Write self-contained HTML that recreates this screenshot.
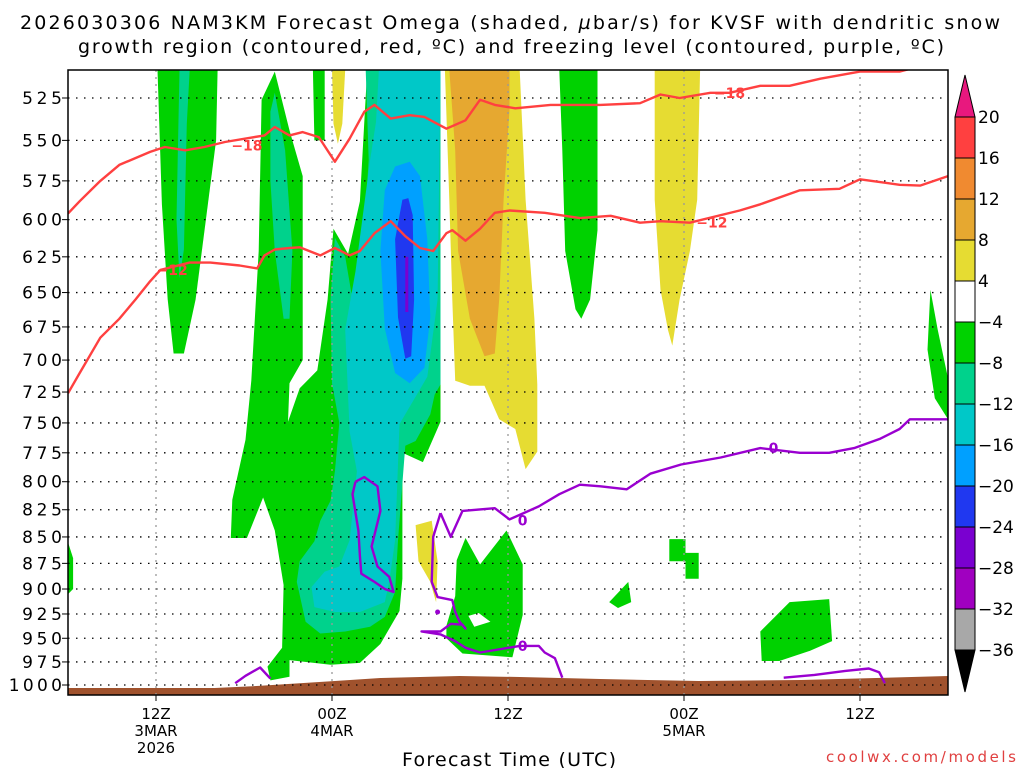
<!DOCTYPE html>
<html><head><meta charset="utf-8"><style>
html,body{margin:0;padding:0;background:#fff;}
svg{display:block;font-family:"DejaVu Sans","Liberation Sans",sans-serif;}
</style></head><body>
<svg id="chart" width="1024" height="768" viewBox="0 0 1024 768" xmlns="http://www.w3.org/2000/svg">
<rect width="1024" height="768" fill="#fff"/>
<text x="20" y="29" font-size="19" textLength="980" lengthAdjust="spacing" fill="#000">2026030306 NAM3KM Forecast Omega (shaded, <tspan font-style="italic">µ</tspan>bar/s) for KVSF with dendritic snow</text>
<text x="78" y="53" font-size="19" textLength="866" lengthAdjust="spacing" fill="#000">growth region (contoured, red, ºC) and freezing level (contoured, purple, ºC)</text>
<g id="shade"></g>
<g id="terrain"></g>
<g id="grid"></g>
<g id="contours"></g>
<g id="axes"></g>
<g id="cbar"></g>
<text x="402" y="766" font-size="19" textLength="214" lengthAdjust="spacing">Forecast Time (UTC)</text>
<text x="826" y="762" font-size="15" textLength="190" lengthAdjust="spacing" fill="#e04040">coolwx.com/models</text>
</svg>
<script>
// ---- data ----
const pressureTicks=[525,550,575,600,625,650,675,700,725,750,775,800,825,850,875,900,925,950,975,1000];
const timeTickHours=[6,18,30,42,54];
const timeTickLabels=[["12Z","3MAR","2026"],["00Z","4MAR"],["12Z"],["00Z","5MAR"],["12Z"]];
const cbarLevels=[20,16,12,8,4,-4,-8,-12,-16,-20,-24,-28,-32,-36];
const cbarColors=["#ff4040","#f08a30","#e6a830","#e6dc32","#ffffff","#00d200","#00d28c","#00c8c8","#00a0ff","#2038f0","#7a00d0","#a000c0","#a8a8a8"];
const terrainHours=[0,10,13,18.2,21.3,26.7,30.8,36.3,43,50,60];
const terrainPres=[1003.3,1003.3,1001,995.6,992.3,990.2,991.3,993.4,995.6,994.5,990.2];
const tempM18=[[0,596],[0.8,588],[2.2,575],[3.5,565],[5.6,557],[6.6,554],[8,556],[9.3,554],[10.7,551],[13.4,547],[14.1,542],[15.1,547],[16,545],[17.1,548],[18.2,563],[19.2,549],[20.2,533],[20.9,529],[22,537],[23.3,535],[24.3,536],[25.8,543],[27.1,538],[28.1,526],[29.1,529],[30.5,531],[32.9,529],[36.3,529],[39,528],[40.4,523],[41.7,525],[43.8,522],[45.1,522],[47.2,518],[49.2,518],[51.3,514],[54,510],[56.7,510],[58.1,507],[60,505]];
const tempM12=[[0,726],[0.8,710],[2.2,683],[3.5,669],[4.6,655],[5.6,642],[6.3,634],[8.3,629],[9.7,629],[11.7,631],[12.9,633],[13.4,624],[14.1,620],[15.1,619],[15.8,618.5],[17.2,624],[18.2,619],[19.2,624],[19.9,621],[20.9,609],[22,601],[23,611],[24,619],[24.9,621],[25.8,609],[26.2,607],[27.1,614],[28.1,606],[29.1,595.5],[30.1,594],[32.5,595.5],[34.9,599],[37,597.5],[39,602],[40.4,601],[42.4,602],[45.8,594],[47.2,590],[49.9,581],[52.6,580],[54,574],[56.7,577.5],[58.1,578],[60,572]];
const frz0Main=[[25.4,828],[26.1,850],[26.9,826],[29.1,823.6],[30.1,833.8],[32.1,822],[33.5,811],[34.9,802.6],[36.3,804],[38.1,806.7],[39.7,793],[41.8,785],[44.5,779],[47.2,771],[49.9,775],[51.9,775],[53.6,771],[55.4,763],[56.7,755],[57.4,747],[60,747]];
const frz0Low=[[25.4,828],[24.9,850],[24.8,893],[25.2,908],[26.2,911],[26.4,923],[26.7,933],[27.1,940],[26.9,936],[26.1,935],[25.4,943],[24.1,943],[25.4,946],[26.4,953],[27.1,960],[28.1,965],[30.8,958],[32.1,958],[32.5,965],[33.2,971],[33.7,992]];
const frz0Loop=[[19.6,800],[20.2,796],[21.1,804],[21.3,826],[20.9,848],[20.7,859],[21.1,878],[21.9,888],[22.2,903],[21.6,900],[20.9,893],[20,885],[19.9,868],[19.8,844],[19.4,811],[19.6,800]];
const frz0SfcA=[[11.4,998],[12.1,990],[13.1,981],[13.8,993]];
const frz0SfcB=[[48.8,992],[50.9,989],[53,984.6],[54.6,982],[55.3,986],[55.7,998]];
const contourLabels=[["−18",12.2,553,"#ff4040"],["−18",45.1,522,"#ff4040"],["−12",7.1,634,"#ff4040"],["−12",43.9,602,"#ff4040"],["0",48.1,771,"#9a00d0"],["0",31,835,"#9a00d0"],["0",31,958,"#9a00d0"]];
// shaded omega regions: polygons of [hour, hPa]
const greenColA=[[6.1,509],[10.2,509],[10.1,550],[9.4,600],[8.7,655],[7.9,695],[7.2,695],[6.8,655],[6.4,590]];
const tealColA=[[7.6,509],[8.3,509],[8.1,540],[7.9,620],[7.6,640],[7.4,600]];
const greenMain=[[20.4,509],[25.4,509],[25.4,749],[24.2,783],[22.8,775],[22.8,890],[22.6,922],[21.3,956],[19.9,976],[17.9,978],[15.1,973],[15.1,991],[13.8,995],[13.6,980],[14.6,960],[14.7,896],[14.1,844],[13.3,814],[12.2,851],[11.1,851],[11.2,816],[12.1,764],[12.5,716],[13,621],[13.2,526],[14.1,510],[15.1,544],[16,572],[16,700],[15.1,718],[15,749],[15.8,722],[17,708],[17.7,655],[18.1,606],[19.1,623],[19.9,588]];
const greenStrip=[[16.7,509],[17.5,509],[17.5,550],[16.8,550]];
const tealStrand=[[13.8,533],[14.1,522],[14.8,556],[15.3,621],[15.1,669],[14.7,669],[14.1,621],[13.8,575]];
const tealMain=[[20.3,509],[25.4,509],[25.4,719],[25,727],[24.7,743],[23.7,765],[23,769],[22.5,853],[22.3,903],[21.6,928],[20.6,938],[18.9,943],[17.2,945],[16.2,933],[15.6,893],[15.8,873],[16.8,854],[17.2,835],[17.9,817],[18.2,791],[18.5,750],[18,718],[17.9,655],[18.2,612],[18.9,625],[19.4,655],[20.1,621],[20.5,562]];
const cyanMain=[[21.2,509],[25.4,509],[25.2,655],[24.5,713],[22.6,751],[22.3,853],[21.9,893],[21.6,913],[19.9,923],[18.2,923],[16.8,918],[16.6,898],[17.5,883],[18.5,878],[19.2,853],[19.7,791],[19.2,757],[18.9,677],[19.6,635],[20.6,562],[21,539]];
const lblueMain=[[22.3,566],[23.3,563],[24,572],[24.5,613],[24.7,668],[24.3,706],[23.3,718],[22.3,710],[21.6,676],[21.3,621],[21.6,581]];
const blueMain=[[22.8,587],[23.2,586],[23.5,597],[23.6,655],[23.4,697],[23,699],[22.5,668],[22.3,613]];
const purpleMain=[[23,625],[23.2,625],[23.2,664],[23,664]];
const yellowBig=[[25.7,509],[30.8,509],[31.2,587],[31.8,669],[32,719],[32,774],[31.2,789],[30.5,755],[29.4,747],[28.4,720],[27.4,720],[26.4,716],[26.2,655],[26,587]];
const orangeBig=[[26,509],[30.1,509],[30.1,532],[29.7,587],[29.4,655],[29.1,695],[28.4,697],[27.4,669],[26.6,621],[26.4,556]];
const yellowStrip=[[18,509],[18.9,509],[18.7,540],[18.4,552],[18.1,540]];
const yellowSmall=[[23.7,839],[24.8,835],[25.2,873],[25.1,913],[24.7,893],[23.9,873]];
const yellowRight=[[40,509],[43.1,509],[42.9,587],[42.4,621],[41.7,655],[41.2,689],[40.9,677],[40.4,648],[40,587]];
const greenRightCol=[[33.5,509],[36.1,509],[36.1,607],[35.6,655],[35,669],[34.6,662],[33.9,621],[33.7,556]];
const greenLowMid=[[27.1,851],[28.1,876],[29.9,844],[31,876],[31,926],[30.3,970],[26.9,966],[25.8,950],[25.8,937],[26.4,907],[26.5,872]];
const whiteHole=[[27.3,927],[28,924],[28.8,933],[27.7,938]];
const greenBox=[[41,852],[42.1,852],[42.1,865],[43,865],[43,890],[42.1,890],[42.1,873],[41,873]];
const greenDot=[[36.9,913],[38.2,893],[38.4,913],[37.5,919]];
const greenLowRight=[[47.2,943],[49.2,913],[51.9,910],[52.1,953],[50.6,963],[48.5,974],[47.3,974]];
const greenEdgeR=[[58.8,648],[59.3,677],[60,714],[60,747],[59.1,730],[58.6,692]];
const greenEdgeL=[[0,855],[0.35,870],[0.35,900],[0,905]];

// ---- axes ----
const L=68,R=948,T=70,B=695,H0=0,H1=60;
function X(h){return L+(h-H0)/(H1-H0)*(R-L);}
function Y(p){return 685-911*Math.log(1000/p);}
const NS="http://www.w3.org/2000/svg";
function mk(tag,attrs,parent){const e=document.createElementNS(NS,tag);for(const k in attrs)e.setAttribute(k,attrs[k]);parent.appendChild(e);return e;}
function pts(arr){return arr.map(d=>X(d[0]).toFixed(1)+","+Y(d[1]).toFixed(1)).join(" ");}

const shade=document.getElementById('shade');
const layers=[[greenColA,"#00d200","green-region"],[tealColA,"#00d28c","teal-region"],[greenMain,"#00d200","green-region"],[greenStrip,"#00d200","green-region"],[tealStrand,"#00d28c","teal-region"],[tealMain,"#00d28c","teal-region"],[cyanMain,"#00c8c8","cyan-region"],[lblueMain,"#00a0ff","lightblue-region"],[blueMain,"#2038f0","blue-region"],[purpleMain,"#7a00d0","purple-region"],[yellowBig,"#e6dc32","yellow-region"],[orangeBig,"#e6a830","orange-region"],[yellowStrip,"#e6dc32","yellow-region"],[yellowSmall,"#e6dc32","yellow-region"],[yellowRight,"#e6dc32","yellow-region"],[greenRightCol,"#00d200","green-region"],[greenLowMid,"#00d200","green-region"],[whiteHole,"#ffffff","white-hole"],[greenBox,"#00d200","green-region"],[greenDot,"#00d200","green-region"],[greenLowRight,"#00d200","green-region"],[greenEdgeR,"#00d200","green-region"],[greenEdgeL,"#00d200","green-region"]];
const clip=mk('clipPath',{id:'plotclip'},document.getElementById('chart'));
mk('rect',{x:L,y:T,width:R-L,height:B-T},clip);
shade.setAttribute('clip-path','url(#plotclip)');
layers.forEach(l=>{
  const e=mk('polygon',{points:pts(l[0]),fill:l[1]},shade);
  
  
});

// terrain
const ter=document.getElementById('terrain');
let tp=terrainHours.map((h,i)=>[h,terrainPres[i]]);
let tstr=pts(tp)+" "+X(60)+","+B+" "+X(0)+","+B;
const te=mk('polygon',{points:tstr,fill:"#a0522d"},ter);



// grid + axes
const grid=document.getElementById('grid'), axes=document.getElementById('axes');
pressureTicks.forEach(p=>{
  const y=Y(p);
  const g=mk('line',{x1:L,x2:R,y1:y,y2:y,stroke:"#000","stroke-width":1.3,"stroke-dasharray":"1.5,6.5"},grid);
  
  
  const t=mk('line',{x1:L-6,x2:L,y1:y,y2:y,stroke:"#000","stroke-width":1},axes);
  
  
  const s=String(p);
  const w=13.3*s.length;
  const tx=mk('text',{x:62-w,y:y+6,"font-size":17,textLength:w,lengthAdjust:"spacing"},axes);
  tx.textContent=s;
  
  
});
timeTickHours.forEach((h,i)=>{
  const x=X(h);
  const g=mk('line',{x1:x,x2:x,y1:T,y2:B,stroke:"#999","stroke-width":1.3,"stroke-dasharray":"2,5"},grid);
  
  
  const t=mk('line',{x1:x,x2:x,y1:B,y2:B+6,stroke:"#000","stroke-width":1},axes);
  
  
  timeTickLabels[i].forEach((s,j)=>{
    const tx=mk('text',{x:x,y:B+24+j*17,"font-size":15,"text-anchor":"middle"},axes);
    tx.textContent=s;
    
    
  });
});
const fr=mk('rect',{x:L,y:T,width:R-L,height:B-T,fill:"none",stroke:"#000","stroke-width":1.5},axes);



// contours
const cg=document.getElementById('contours');
cg.setAttribute('clip-path','url(#plotclip)');
[[tempM18,"#ff4040","temp-contour-minus18"],[tempM12,"#ff4040","temp-contour-minus12"],[frz0Main,"#9a00d0","freezing-level-contour"],[frz0Low,"#9a00d0","freezing-level-contour"],[frz0Loop,"#9a00d0","freezing-level-contour"],[frz0SfcA,"#9a00d0","freezing-level-contour"],[frz0SfcB,"#9a00d0","freezing-level-contour"]].forEach(c=>{
  const e=mk('polyline',{points:pts(c[0]),fill:"none",stroke:c[1],"stroke-width":2.4,"stroke-linejoin":"round"},cg);
  
  
});
const dot=mk('circle',{cx:X(25.2),cy:Y(923),r:2.5,fill:"#9a00d0"},cg);


contourLabels.forEach(c=>{
  const tx=mk('text',{x:X(c[1]),y:Y(c[2])+5,"font-size":14,"font-weight":"bold","text-anchor":"middle",fill:c[3]},cg);
  tx.textContent=c[0];
  
  
});

// colorbar
const cb=document.getElementById('cbar');
const cbx=955,cbw=20,cbTop=117,cbStep=41;
function CY(i){return cbTop+i*cbStep;}
const tri1=mk('polygon',{points:`${cbx},${CY(0)} ${cbx+cbw},${CY(0)} ${cbx+cbw/2},${CY(0)-42}`,fill:"#e8187e",stroke:"#000","stroke-width":1},cb);


cbarColors.forEach((c,i)=>{
  const r=mk('rect',{x:cbx,y:CY(i),width:cbw,height:cbStep,fill:c,stroke:"#000","stroke-width":1},cb);
  
  
});
const last=cbarLevels.length-1;
const tri2=mk('polygon',{points:`${cbx},${CY(last)} ${cbx+cbw},${CY(last)} ${cbx+cbw/2},${CY(last)+42}`,fill:"#000",stroke:"#000","stroke-width":1},cb);


cbarLevels.forEach((v,i)=>{
  const s=v<0?"−"+Math.abs(v):String(v);
  const tx=mk('text',{x:978,y:CY(i)+6,"font-size":17},cb);
  tx.textContent=s;
  
  
});
</script>
</body></html>
